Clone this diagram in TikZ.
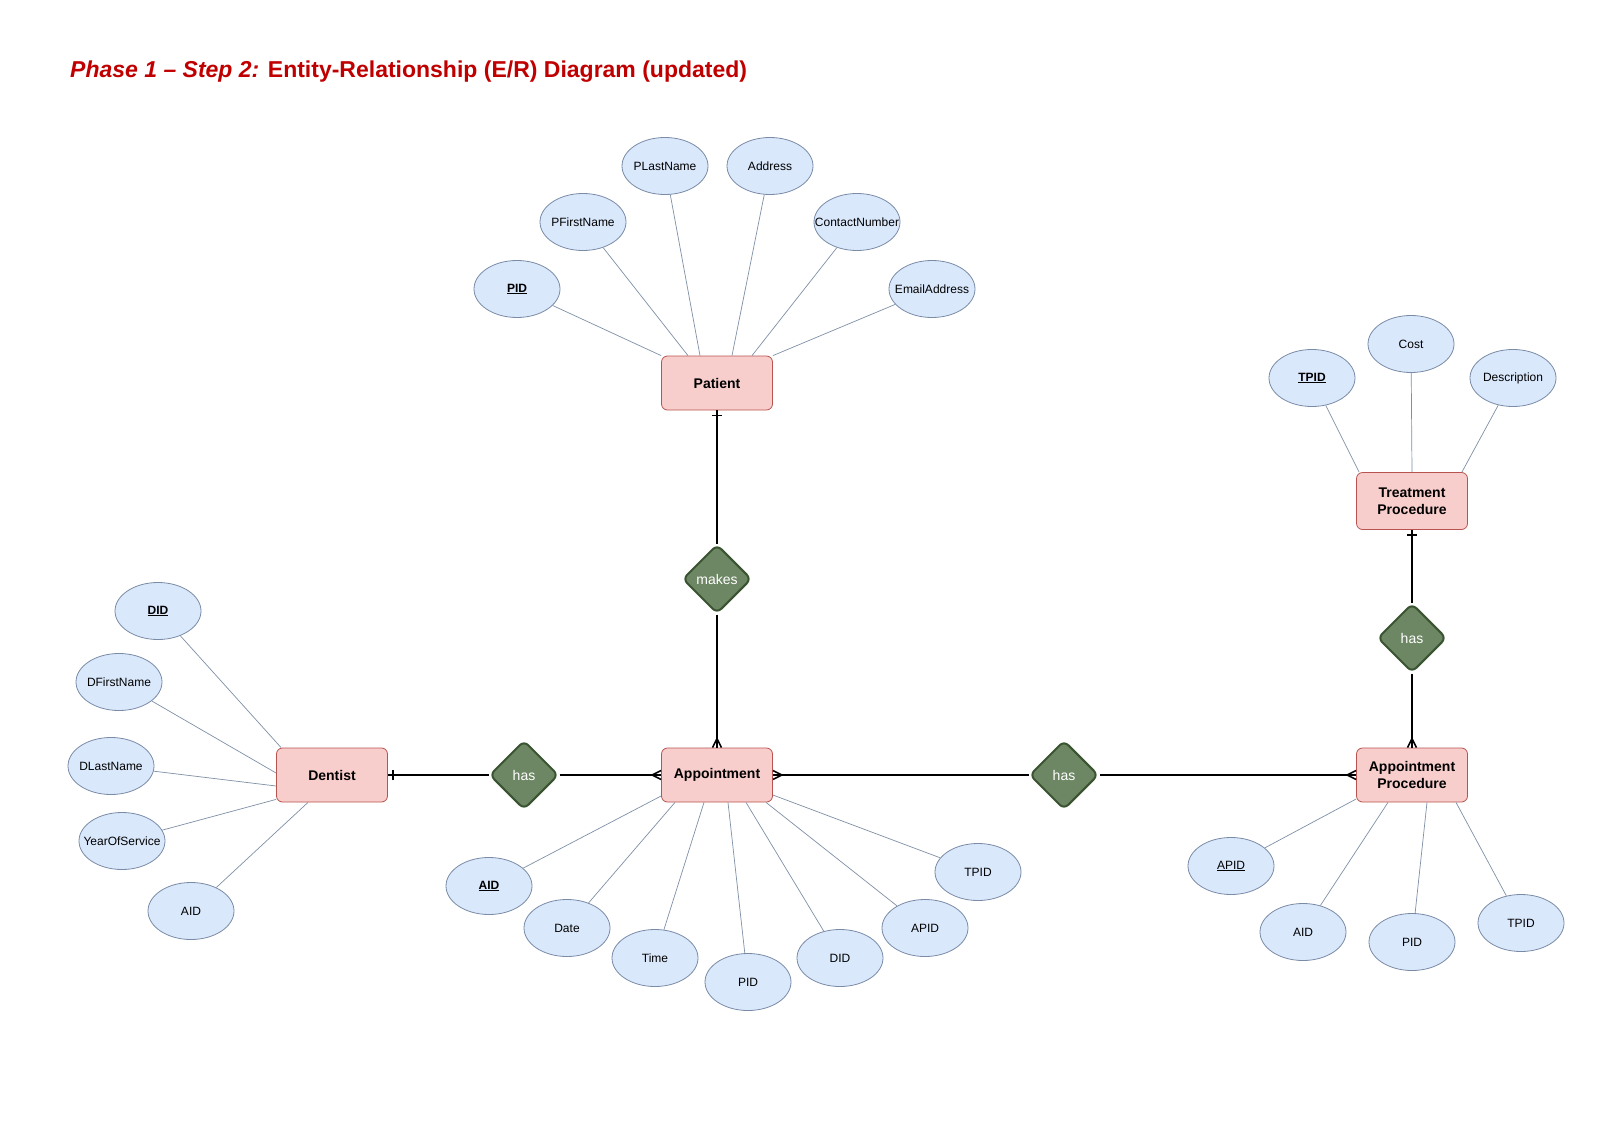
\documentclass[tikz,border=0pt]{standalone}
\usepackage{fontspec}
\setmainfont{Liberation Sans}
\usetikzlibrary{shapes.geometric,decorations.markings}
\definecolor{attrfill}{HTML}{DAE8FC}
\definecolor{attrdraw}{HTML}{7A8BA6}
\definecolor{entfill}{HTML}{F8CECC}
\definecolor{entdraw}{HTML}{B85450}
\definecolor{relfill}{HTML}{6D8764}
\definecolor{reldraw}{HTML}{3A5431}
\definecolor{linecol}{HTML}{7F90A6}
\definecolor{titlered}{HTML}{C00000}
\newcommand{\ctrtxt}[1]{\makebox[0pt][c]{#1}}
\begin{document}
\begin{tikzpicture}[x=1pt,y=-1pt,
  attr/.style={ellipse, draw=attrdraw, fill=attrfill, line width=0.8pt,
    minimum width=86pt, minimum height=57pt, inner sep=0pt,
    font=\fontsize{12}{14}\selectfont},
  entity/.style={rectangle, rounded corners=6pt, draw=entdraw, fill=entfill,
    line width=0.8pt, minimum width=111pt, minimum height=54pt, inner sep=0pt,
    align=center, font=\fontsize{14}{16.5}\selectfont\bfseries},
  rel/.style={diamond, aspect=1, draw=reldraw, fill=relfill, line width=2pt,
    rounded corners=6pt, minimum width=69pt, minimum height=69pt, inner sep=0pt,
    text=white, font=\fontsize{14}{17}\selectfont},
  attrline/.style={draw=linecol, line width=0.7pt},
  conn/.style={draw=black, line width=2pt},
  onebar/.style={postaction={decorate,decoration={markings,
    mark=at position 5pt with {\draw[line width=1.6pt] (0pt,-5pt) -- (0pt,5pt);}}}},
  crowend/.style={postaction={decorate,decoration={markings,
    mark=at position 1 with {\draw[line width=1.6pt] (-9pt,0pt) -- (0pt,4.5pt) (-9pt,0pt) -- (0pt,-4.5pt);}}}}
]
\path[use as bounding box, fill=white] (0,0) rectangle (1618,1143);

% title
\node[anchor=base west, inner sep=0pt, text=titlered,
  font=\fontsize{23}{27}\selectfont\bfseries] (title) at (70,77)
  {\itshape Phase 1 – Step 2:\upshape{} Entity-Relationship (E/R) Diagram (updated)};

% entities
\node[entity] (patient) at (717,383) {Patient};
\node[entity, minimum height=57pt] (tp) at (1412,501) {Treatment\\Procedure};
\node[entity] (dentist) at (332,775) {Dentist};
\node[entity] (app) at (717,775) {Appointment};
\node[entity] (ap) at (1412,775) {Appointment\\Procedure};

% relationships
\node[rel] (makes) at (717,579) {makes};
\node[rel] (has1) at (524,775) {has};
\node[rel] (has2) at (1064,775) {has};
\node[rel] (has3) at (1412,638) {has};

% patient attributes
\node[attr] (ppid) at (517,289) {\ctrtxt{\underline{\textbf{PID}}}};
\node[attr] (pfn) at (583,222) {\ctrtxt{PFirstName}};
\node[attr] (pln) at (665,166) {\ctrtxt{PLastName}};
\node[attr] (padr) at (770,166) {\ctrtxt{Address}};
\node[attr] (pcon) at (857,222) {\ctrtxt{ContactNumber}};
\node[attr] (pmail) at (932,289) {\ctrtxt{EmailAddress}};

% treatment attributes
\node[attr] (ttpid) at (1312,378) {\ctrtxt{\underline{\textbf{TPID}}}};
\node[attr] (tcost) at (1411,344) {\ctrtxt{Cost}};
\node[attr] (tdesc) at (1513,378) {\ctrtxt{Description}};

% dentist attributes
\node[attr] (ddid) at (158,611) {\ctrtxt{\underline{\textbf{DID}}}};
\node[attr] (dfn) at (119,682) {\ctrtxt{DFirstName}};
\node[attr] (dln) at (111,766) {\ctrtxt{DLastName}};
\node[attr] (dyos) at (122,841) {\ctrtxt{YearOfService}};
\node[attr] (daid) at (191,911) {\ctrtxt{AID}};

% appointment attributes
\node[attr] (aaid) at (489,886) {\ctrtxt{\underline{\textbf{AID}}}};
\node[attr] (adate) at (567,928) {\ctrtxt{Date}};
\node[attr] (atime) at (655,958) {\ctrtxt{Time}};
\node[attr] (apid) at (748,982) {\ctrtxt{PID}};
\node[attr] (adid) at (840,958) {\ctrtxt{DID}};
\node[attr] (aapid) at (925,928) {\ctrtxt{APID}};
\node[attr] (atpid) at (978,872) {\ctrtxt{TPID}};

% appointment procedure attributes
\node[attr] (qapid) at (1231,866) {\ctrtxt{\underline{APID}}};
\node[attr] (qaid) at (1303,932) {\ctrtxt{AID}};
\node[attr] (qpid) at (1412,942) {\ctrtxt{PID}};
\node[attr] (qtpid) at (1521,923) {\ctrtxt{TPID}};

% attribute lines
\draw[attrline] (ppid) -- (patient.north west);
\draw[attrline] (pfn) -- ([xshift=-29pt]patient.north);
\draw[attrline] (pln) -- ([xshift=-17pt]patient.north);
\draw[attrline] (padr) -- ([xshift=15pt]patient.north);
\draw[attrline] (pcon) -- ([xshift=35pt]patient.north);
\draw[attrline] (pmail) -- (patient.north east);

\draw[attrline] (ttpid) -- ([xshift=3pt]tp.north west);
\draw[attrline] (tcost) -- (tp.north);
\draw[attrline] (tdesc) -- ([xshift=-6pt]tp.north east);

\draw[attrline] (ddid) -- ([xshift=5pt]dentist.north west);
\draw[attrline] (dfn) -- ([yshift=2pt]dentist.west);
\draw[attrline] (dln) -- ([yshift=-11pt]dentist.west);
\draw[attrline] (dyos) -- ([yshift=3pt]dentist.south west);
\draw[attrline] (daid) -- ([xshift=-24pt]dentist.south);

\draw[attrline] (aaid) -- ([yshift=-21pt]app.west);
\draw[attrline] (adate) -- ([xshift=-42pt]app.south);
\draw[attrline] (atime) -- ([xshift=-13pt]app.south);
\draw[attrline] (apid) -- ([xshift=11pt]app.south);
\draw[attrline] (adid) -- ([xshift=29pt]app.south);
\draw[attrline] (aapid) -- ([xshift=49pt]app.south);
\draw[attrline] (atpid) -- ([yshift=-20pt]app.east);

\draw[attrline] (qapid) -- ([yshift=-24pt]ap.west);
\draw[attrline] (qaid) -- ([xshift=-24pt]ap.south);
\draw[attrline] (qpid) -- ([xshift=15pt]ap.south);
\draw[attrline] (qtpid) -- ([xshift=44pt]ap.south);

% connectors
\draw[conn, onebar] (patient) -- (makes);
\draw[conn, crowend] (makes) -- (app);
\draw[conn, onebar] (dentist) -- (has1);
\draw[conn, crowend] (has1) -- (app);
\draw[conn, crowend] (has2) -- (app);
\draw[conn, crowend] (has2) -- (ap);
\draw[conn, onebar] (tp) -- (has3);
\draw[conn, crowend] (has3) -- (ap);
\end{tikzpicture}
\end{document}
